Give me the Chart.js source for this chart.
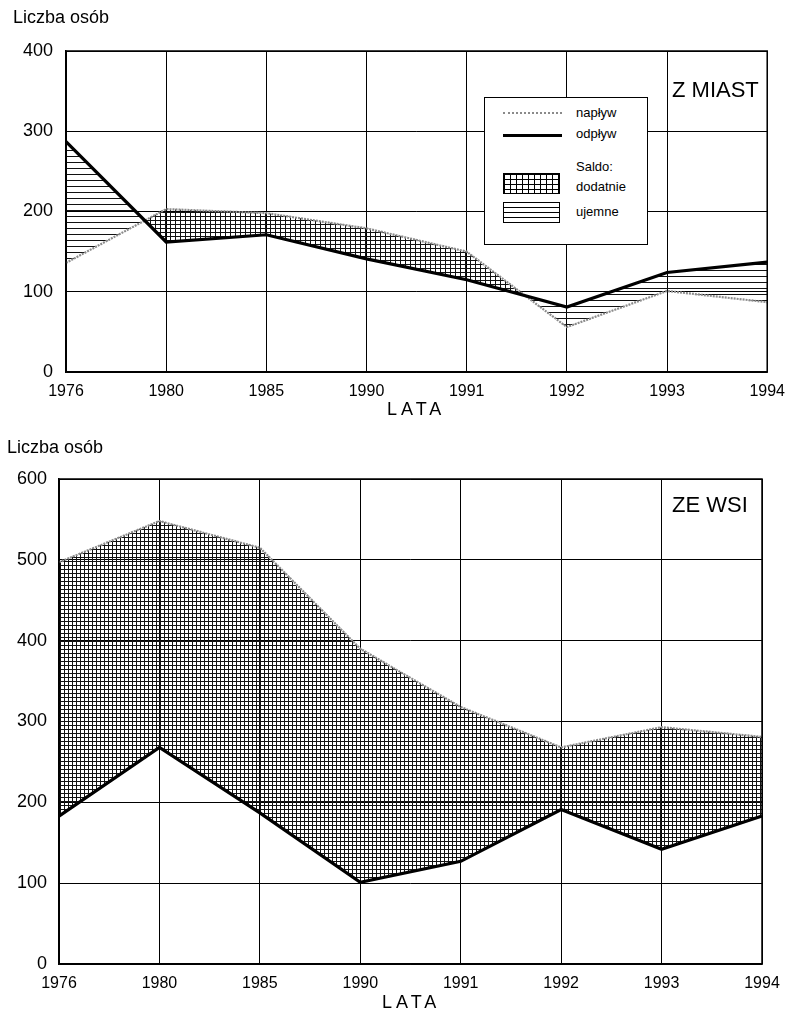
<!DOCTYPE html>
<html>
<head>
<meta charset="utf-8">
<script src="https://cdn.jsdelivr.net/npm/chart.js@4"></script>
<style>
  html, body { margin:0; padding:0; background:#fff; }
  body { width:795px; height:1013px; position:relative; overflow:hidden;
         font-family:"Liberation Sans", Arial, sans-serif; color:#000; }
  .wrap { position:absolute; left:0; width:795px; }
  .txt { position:absolute; line-height:1; white-space:nowrap; }
  .legend { position:absolute; left:484px; top:97px; width:162px; height:146px;
            border:1.5px solid #000; background:#fff; }
  .sw-cross { position:absolute; border:1px solid #000;
    background-image: linear-gradient(#000 1px, transparent 1px), linear-gradient(90deg, #000 1px, transparent 1px);
    background-size: 6px 5px; }
  .sw-horiz { position:absolute; border:1px solid #000;
    background-image: repeating-linear-gradient(to bottom, transparent 0 4px, #000 4px 5px); }
</style>
</head>
<body>
<div class="wrap" style="top:0;height:425px;"><canvas id="c1"></canvas></div>
<div class="wrap" style="top:425px;height:588px;"><canvas id="c2"></canvas></div>

<div class="txt" style="left:13px;top:8px;font-size:18px;">Liczba osób</div>
<div class="txt" style="left:7px;top:438px;font-size:18px;">Liczba osób</div>
<div class="txt" style="left:387px;top:400px;font-size:18px;letter-spacing:4px;">LATA</div>
<div class="txt" style="left:382px;top:993px;font-size:18px;letter-spacing:4px;">LATA</div>
<div class="txt" style="left:672px;top:79px;font-size:22px;">Z MIAST</div>
<div class="txt" style="left:672px;top:494px;font-size:22px;">ZE WSI</div>

<div class="legend">
  <div style="position:absolute;left:18px;top:14px;width:59px;height:0;border-top:2px dotted #8a8a8a;"></div>
  <div class="txt" style="left:91px;top:8px;font-size:13px;">napływ</div>
  <div style="position:absolute;left:18px;top:36px;width:59px;height:3px;background:#000;"></div>
  <div class="txt" style="left:91px;top:29px;font-size:13px;">odpływ</div>
  <div class="txt" style="left:91px;top:62px;font-size:13px;">Saldo:</div>
  <div class="sw-cross" style="left:18px;top:75px;width:55px;height:19px;"></div>
  <div class="txt" style="left:91px;top:82px;font-size:13px;">dodatnie</div>
  <div class="sw-horiz" style="left:18px;top:104px;width:55px;height:19px;"></div>
  <div class="txt" style="left:91px;top:107px;font-size:13px;">ujemne</div>
</div>

<script>
// ---- data ----
const years = ['1976', '1980', '1985', '1990', '1991', '1992', '1993', '1994'];
const miastNaplyw = [136, 203, 198, 179, 150, 56, 101, 87];
const miastOdplyw = [287, 162, 171, 141, 115, 81, 124, 137];
const wsiNaplyw = [497, 548, 515, 390, 318, 268, 293, 281];
const wsiOdplyw = [183, 268, 187, 101, 127, 191, 142, 183];
const miastYTicks = [0, 100, 200, 300, 400];
const wsiYTicks = [0, 100, 200, 300, 400, 500, 600];

// ---- patterns ----
function crossPattern(ctx, w, h, color) {
  const c = document.createElement('canvas');
  c.width = w; c.height = h;
  const g = c.getContext('2d');
  g.fillStyle = color;
  g.fillRect(0, 0, w, 1);
  g.fillRect(0, 0, 1, h);
  return ctx.createPattern(c, 'repeat');
}
function horizPattern(ctx, h, color) {
  const c = document.createElement('canvas');
  c.width = 4; c.height = h;
  const g = c.getContext('2d');
  g.fillStyle = color;
  g.fillRect(0, 0, 4, 1);
  return ctx.createPattern(c, 'repeat');
}

const FONT = '"Liberation Sans", Arial, sans-serif';

function makeChart(id, naplyw, odplyw, yTicks, geom, cross) {
  const canvas = document.getElementById(id);
  const ctx = canvas.getContext('2d');
  const yMax = yTicks[yTicks.length - 1];
  return new Chart(ctx, {
    type: 'line',
    data: {
      labels: years,
      datasets: [
        {
          label: 'napływ',
          data: naplyw,
          borderColor: '#8c8c8c',
          borderWidth: 2.2,
          borderDash: [2, 1],
          pointRadius: 0,
          tension: 0,
          order: 1,
          fill: {
            target: 1,
            above: crossPattern(ctx, cross[0], cross[1], '#111'),
            below: horizPattern(ctx, 6, '#111')
          }
        },
        {
          label: 'odpływ',
          data: odplyw,
          borderColor: '#000',
          borderWidth: 3.2,
          pointRadius: 0,
          tension: 0,
          order: 0,
          fill: false
        }
      ]
    },
    options: {
      responsive: true,
      maintainAspectRatio: false,
      animation: false,
      events: [],
      layout: { padding: { left: 0, top: geom.top, right: geom.right, bottom: 0 } },
      plugins: {
        legend: { display: false },
        tooltip: { enabled: false },
        filler: { drawTime: 'beforeDatasetsDraw' }
      },
      scales: {
        x: {
          type: 'category',
          offset: false,
          grid: { color: '#000', lineWidth: 1, drawTicks: false },
          border: { color: '#000', width: 1.5 },
          ticks: { color: '#000', font: { family: FONT, size: 16 }, padding: 10, maxRotation: 0, autoSkip: false },
          afterFit: s => { s.height = geom.xh; }
        },
        y: {
          min: 0, max: yMax,
          afterBuildTicks: s => { s.ticks = yTicks.map(v => ({ value: v })); },
          grid: { color: '#000', lineWidth: 1, drawTicks: false },
          border: { color: '#000', width: 1.5 },
          ticks: { color: '#000', font: { family: FONT, size: 18 }, padding: geom.ypad },
          afterFit: s => { s.width = geom.left; }
        }
      }
    },
    plugins: [{
      id: 'frame',
      afterDraw(chart) {
        const a = chart.chartArea, c = chart.ctx;
        c.save();
        c.strokeStyle = '#000';
        c.lineWidth = 1.5;
        c.strokeRect(a.left, a.top, a.right - a.left, a.bottom - a.top);
        c.restore();
      }
    }]
  });
}

makeChart('c1', miastNaplyw, miastOdplyw, miastYTicks,
  { top: 51, right: 26, left: 66, xh: 53, ypad: 13 }, [5, 4]);
makeChart('c2', wsiNaplyw, wsiOdplyw, wsiYTicks,
  { top: 54, right: 33, left: 59, xh: 49, ypad: 12 }, [4, 4]);
</script>
</body>
</html>
